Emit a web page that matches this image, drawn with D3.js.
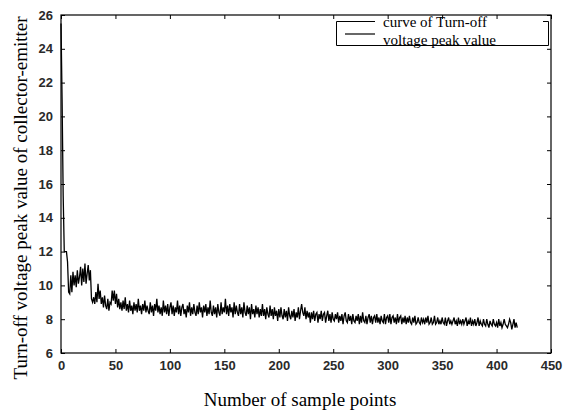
<!DOCTYPE html>
<html>
<head>
<meta charset="utf-8">
<script src="https://cdn.jsdelivr.net/npm/d3@7"></script>
<style>
  body { margin: 0; background: #fff; }
</style>
</head>
<body>
<script>
// sample index 0..419, turn-off Vce peak value
const peakValues = [
  25.5, 21.0, 15.3, 12.0, 12.0, 12.0, 11.4, 9.6, 9.5, 10.6,
  9.6, 10.8, 10.0, 10.6, 9.9, 10.9, 10.1, 10.5, 11.1, 10.0,
  11.0, 10.2, 11.3, 10.1, 10.7, 11.2, 10.3, 10.9, 9.2, 9.0,
  9.3, 8.9, 9.6, 9.0, 10.1, 9.2, 9.7, 8.9, 9.3, 8.7,
  9.4, 8.8, 8.6, 9.2, 8.5, 9.0, 8.9, 9.7, 9.1, 9.7,
  8.9, 9.5, 8.7, 9.2, 8.6, 9.0, 8.5, 9.1, 8.6, 9.3,
  8.5, 8.9, 8.4, 9.1, 8.5, 8.8, 8.3, 9.0, 8.5, 8.9,
  8.4, 9.2, 8.5, 8.8, 8.3, 8.9, 8.5, 9.1, 8.4, 8.8,
  8.5, 8.3, 9.0, 8.4, 8.8, 8.2, 8.9, 8.5, 9.2, 8.4,
  8.8, 8.3, 8.7, 8.2, 9.1, 8.4, 8.8, 8.3, 8.9, 8.2,
  8.7, 9.0, 8.3, 8.8, 8.2, 8.7, 8.4, 9.1, 8.3, 8.8,
  8.2, 8.7, 8.9, 8.3, 8.6, 8.1, 8.8, 8.4, 9.0, 8.2,
  8.7, 8.3, 8.9, 8.4, 8.2, 8.8, 8.3, 9.0, 8.4, 8.7,
  8.1, 8.8, 8.4, 8.9, 8.2, 8.7, 8.3, 9.1, 8.4, 8.2,
  8.8, 8.3, 8.7, 8.1, 8.9, 8.4, 8.2, 9.0, 8.3, 8.7,
  8.4, 9.2, 8.3, 8.8, 8.2, 8.9, 8.4, 8.7, 8.1, 9.0,
  8.3, 8.8, 8.4, 8.2, 8.9, 8.3, 8.7, 8.1, 9.0, 8.4,
  8.2, 8.8, 8.3, 8.7, 8.0, 8.9, 8.3, 8.6, 8.1, 8.8,
  8.3, 8.7, 8.1, 8.6, 8.2, 8.9, 8.2, 8.6, 8.0, 8.7,
  8.3, 8.1, 8.8, 8.2, 8.6, 8.0, 8.7, 8.2, 8.5, 7.9,
  8.6, 8.1, 8.7, 8.2, 8.0, 8.6, 8.1, 8.5, 7.9, 8.7,
  8.2, 8.0, 8.5, 8.1, 8.6, 7.9, 8.4, 8.1, 8.7, 8.0,
  8.5, 8.9, 8.4, 8.2, 8.7, 8.0, 8.5, 8.1, 8.4, 7.8,
  8.4, 8.0, 8.5, 7.9, 8.3, 8.4, 7.8, 8.3, 8.0, 8.5,
  7.9, 8.3, 8.4, 7.8, 8.2, 8.5, 7.9, 8.3, 7.8, 8.4,
  8.0, 7.9, 8.3, 8.0, 8.4, 7.8, 8.2, 7.9, 8.3, 7.7,
  8.2, 8.4, 7.9, 7.8, 8.3, 7.9, 8.2, 7.7, 8.3, 7.9,
  7.8, 8.2, 7.9, 8.3, 7.7, 8.2, 7.8, 8.4, 7.9, 7.8,
  8.2, 7.7, 8.1, 8.3, 7.8, 8.2, 7.7, 8.1, 8.2, 7.8,
  8.3, 7.8, 8.1, 7.7, 8.2, 7.9, 7.8, 8.3, 7.7, 8.1,
  8.2, 7.8, 8.3, 7.7, 8.1, 8.2, 7.8, 8.1, 7.7, 8.3,
  7.8, 8.1, 8.2, 7.7, 8.1, 7.8, 8.2, 7.7, 8.1, 7.8,
  8.2, 7.8, 7.7, 8.1, 7.8, 8.2, 7.7, 7.8, 8.1, 7.8,
  7.7, 8.1, 7.8, 8.0, 7.7, 8.1, 7.8, 8.2, 7.7, 7.8,
  8.1, 7.7, 7.8, 8.2, 7.7, 7.8, 8.1, 7.7, 7.9, 7.7,
  8.1, 7.8, 7.7, 8.1, 7.6, 7.9, 8.1, 7.7, 7.9, 7.7,
  7.9, 8.1, 7.7, 7.9, 7.6, 8.1, 7.7, 7.9, 7.7, 8.0,
  7.7, 7.9, 8.1, 7.6, 7.9, 7.7, 8.1, 7.6, 7.9, 7.7,
  8.0, 7.6, 7.8, 8.1, 7.6, 7.9, 7.7, 7.6, 8.0, 7.7,
  7.6, 8.0, 7.7, 7.5, 7.9, 7.7, 7.6, 8.0, 7.7, 7.6,
  7.8, 7.5, 8.0, 7.6, 7.8, 7.5, 7.7, 8.0, 7.7, 7.6,
  7.5, 7.7, 8.0, 7.8, 7.4, 7.7, 8.0, 7.5, 7.8, 7.5
];

const xTicks = [0, 50, 100, 150, 200, 250, 300, 350, 400, 450];
const yTicks = [6, 8, 10, 12, 14, 16, 18, 20, 22, 24, 26];
const legendLines = ['curve of Turn-off', 'voltage peak value'];
const xTitle = 'Number of sample points';
const yTitle = 'Turn-off voltage peak value of collector-emitter';

const renderData = ({
  width: 563,
  height: 412,
  left: 61,
  right: 551,
  top: 15,
  bottom: 353
});

const svg = d3.select('body')
  .append('svg')
  .attr('width', renderData.width)
  .attr('height', renderData.height);

const x = d3.scaleLinear().domain([0, 450]).range([renderData.left, renderData.right]);
const y = d3.scaleLinear().domain([6, 26]).range([renderData.bottom, renderData.top]);

const tickFont = g => g
  .style('font-family', 'Arial, "Liberation Sans", sans-serif')
  .style('font-size', '13px')
  .style('font-weight', 'bold')
  .style('fill', '#2a2a2a');

// bottom + left axes, ticks pointing inward
svg.append('g')
  .attr('transform', `translate(0,${renderData.bottom})`)
  .call(d3.axisBottom(x).tickValues(xTicks).tickSize(-4).tickPadding(8).tickFormat(d3.format('d')))
  .call(g => g.select('.domain').remove())
  .call(g => g.selectAll('text').call(tickFont));

svg.append('g')
  .attr('transform', `translate(${renderData.left},0)`)
  .call(d3.axisLeft(y).tickValues(yTicks).tickSize(-4).tickPadding(8).tickFormat(d3.format('d')))
  .call(g => g.select('.domain').remove())
  .call(g => g.selectAll('text').call(tickFont));

// mirrored ticks on top and right
svg.append('g')
  .attr('transform', `translate(0,${renderData.top})`)
  .call(d3.axisTop(x).tickValues(xTicks).tickSize(-4).tickFormat(''))
  .call(g => g.select('.domain').remove());

svg.append('g')
  .attr('transform', `translate(${renderData.right},0)`)
  .call(d3.axisRight(y).tickValues(yTicks).tickSize(-4).tickFormat(''))
  .call(g => g.select('.domain').remove());

svg.selectAll('.tick line').attr('stroke', '#000');

const line = d3.line()
  .x((d, i) => x(i))
  .y(d => y(d));

svg.append('path')
  .datum(peakValues)
  .attr('d', line)
  .attr('fill', 'none')
  .attr('stroke', '#000')
  .attr('stroke-width', 1.3);

// frame
svg.append('rect')
  .attr('x', renderData.left)
  .attr('y', renderData.top)
  .attr('width', renderData.right - renderData.left)
  .attr('height', renderData.bottom - renderData.top)
  .attr('fill', 'none')
  .attr('stroke', '#000')
  .attr('stroke-width', 1.2);

// legend
const legend = svg.append('g');
legend.append('rect')
  .attr('x', 336).attr('y', 21)
  .attr('width', 212).attr('height', 24)
  .attr('fill', '#fff');
legend.append('path')
  .attr('d', 'M375,21.5H336.5V45.5H548.5V21.5H543')
  .attr('fill', 'none')
  .attr('stroke', '#000');
legend.append('line')
  .attr('x1', 345).attr('x2', 375)
  .attr('y1', 34).attr('y2', 34)
  .attr('stroke', '#000')
  .attr('stroke-width', 1.2);
legend.selectAll('text.leg')
  .data(legendLines)
  .join('text')
  .attr('class', 'leg')
  .attr('x', 383)
  .attr('y', (d, i) => 27 + i * 18)
  .attr('textLength', (d, i) => [104, 113][i])
  .attr('lengthAdjust', 'spacingAndGlyphs')
  .style('font-family', '"Liberation Serif", "Times New Roman", serif')
  .style('font-size', '14px')
  .text(d => d);

svg.append('text')
  .attr('x', 300)
  .attr('y', 406)
  .attr('text-anchor', 'middle')
  .style('font-family', '"Liberation Serif", "Times New Roman", serif')
  .style('font-size', '19px')
  .text(xTitle);

svg.append('text')
  .attr('transform', `translate(27,${198}) rotate(-90)`)
  .attr('text-anchor', 'middle')
  .style('font-family', '"Liberation Serif", "Times New Roman", serif')
  .style('font-size', '19px')
  .text(yTitle);
</script>
</body>
</html>
